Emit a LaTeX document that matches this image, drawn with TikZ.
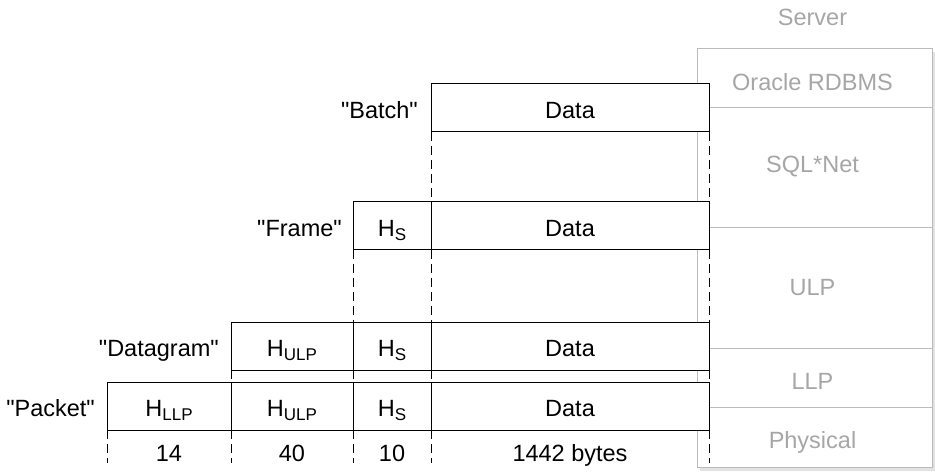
\documentclass[tikz,border=0pt]{standalone}
\usepackage{fontspec}
\newfontfamily\lsans{Liberation Sans}
\definecolor{srvtext}{HTML}{A6A6A6}
\definecolor{srvline}{HTML}{BBBBBB}
\definecolor{srvshadow}{HTML}{E2E2E2}
\newcommand{\Hsub}[1]{H{\fontsize{17}{17}\selectfont\raisebox{-4pt}{#1}}}
\begin{document}
\begin{tikzpicture}[x=1pt,y=-1pt,
  every node/.style={font=\lsans\fontsize{23.5}{27}\selectfont},
  cell/.style={draw=black, fill=white, line width=1pt, inner sep=0pt, outer sep=0pt,
    minimum height=48pt, anchor=north west, text height=21pt, text depth=0pt},
  rowlabel/.style={anchor=base east, inner sep=0pt},
  guide/.style={draw=black, line width=1pt, dash pattern=on 9pt off 5pt},
  srv/.style={draw=srvline, line width=1pt, fill=white},
  srvlabel/.style={text=srvtext, inner sep=0pt, anchor=base},
  num/.style={inner sep=0pt, anchor=base}]
\useasboundingbox (0,0) rectangle (935,473);

% Server stack
\fill[srvshadow] (700,52) rectangle (935,471);
\draw[srv] (697,49) rectangle (932,467.5);
\coordinate (s1l) at (697,108); \coordinate (s1r) at (932,108);
\coordinate (s2l) at (697,228); \coordinate (s2r) at (932,228);
\coordinate (s3l) at (697,348); \coordinate (s3r) at (932,348);
\coordinate (s4l) at (697,407); \coordinate (s4r) at (932,407);
\draw[srvline, line width=1pt] (s1l) -- (s1r) (s2l) -- (s2r) (s3l) -- (s3r) (s4l) -- (s4r);
\node[srvlabel] (server) at (812.5,26) {Server};
\node[srvlabel] (rdbms) at (812.5,90.4) {Oracle RDBMS};
\node[srvlabel] (sqlnet) at (812.5,172.4) {SQL*Net};
\node[srvlabel] (ulp) at (812.5,295) {ULP};
\node[srvlabel] (llp) at (812.5,389) {LLP};
\node[srvlabel] (phys) at (812.5,448.4) {Physical};

% Batch
\node[cell, minimum width=278pt] (bdata) at (431,84) {Data};
\node[rowlabel] (lbatch) at (418,118.4) {"Batch"};

% Frame
\node[cell, minimum width=78pt] (fhs) at (353,202) {\Hsub{S}};
\node[cell, minimum width=278pt] (fdata) at (431,202) {Data};
\node[rowlabel] (lframe) at (342,236.4) {"Frame"};

% Datagram
\node[cell, minimum width=122pt] (gulp) at (231,322) {\Hsub{ULP}};
\node[cell, minimum width=78pt] (ghs) at (353,322) {\Hsub{S}};
\node[cell, minimum width=278pt] (gdata) at (431,322) {Data};
\node[rowlabel] (ldatagram) at (219,356.4) {"Datagram"};

% Packet
\node[cell, minimum width=124pt] (pllp) at (107,382) {\Hsub{LLP}};
\node[cell, minimum width=122pt] (pulp) at (231,382) {\Hsub{ULP}};
\node[cell, minimum width=78pt] (phs) at (353,382) {\Hsub{S}};
\node[cell, minimum width=278pt] (pdata) at (431,382) {Data};
\node[rowlabel] (lpacket) at (95,416.4) {"Packet"};

% bottom ends of dashed guides
\coordinate (e1) at (107,463);
\coordinate (e2) at (231,463);
\coordinate (e3) at (353,463);
\coordinate (e4) at (431,463);
\coordinate (e5) at (709,463);

% dashed guides
\draw[guide] (bdata.south west) -- (fdata.north west);
\draw[guide] (bdata.south east) -- (fdata.north east);
\draw[guide] (fhs.south west) -- (ghs.north west);
\draw[guide] (fdata.south west) -- (gdata.north west);
\draw[guide] (fdata.south east) -- (gdata.north east);
\draw[guide] (gulp.south west) -- (pulp.north west);
\draw[guide] (ghs.south west) -- (phs.north west);
\draw[guide] (gdata.south west) -- (pdata.north west);
\draw[guide] (gdata.south east) -- (pdata.north east);
\draw[guide] (pllp.south west) -- (e1);
\draw[guide] (pulp.south west) -- (e2);
\draw[guide] (phs.south west) -- (e3);
\draw[guide] (pdata.south west) -- (e4);
\draw[guide] (pdata.south east) -- (e5);

% sizes
\node[num] (n14) at (169,461.4) {14};
\node[num] (n40) at (292,461.4) {40};
\node[num] (n10) at (392,461.4) {10};
\node[num] (n1442) at (570,461.4) {1442 bytes};
\end{tikzpicture}
\end{document}
